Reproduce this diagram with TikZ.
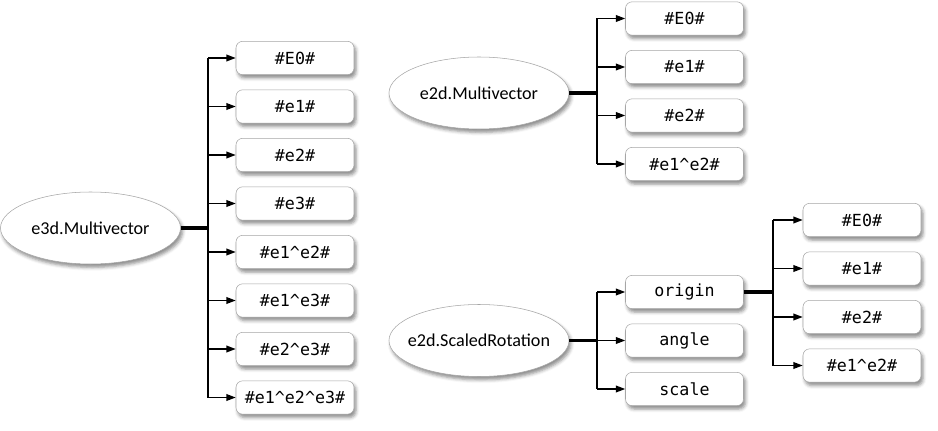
\documentclass[tikz,border=0pt]{standalone}
\usepackage{fontspec}
\setmainfont{Carlito}
\setmonofont{DejaVu Sans Mono}
\usetikzlibrary{shapes.geometric,arrows.meta,shadows.blur}
\tikzset{
  root/.style={ellipse, draw=gray!70, thin, fill=white, minimum width=135pt, minimum height=54pt,
    inner xsep=-12pt, inner ysep=0pt, font=\fontsize{13.6}{15}\selectfont,
    blur shadow={shadow xshift=1.5pt, shadow yshift=-2.5pt, shadow blur radius=2.5pt, shadow opacity=45}},
  leaf/.style={draw=gray!70, thin, fill=white, rounded corners=5pt, minimum width=88.5pt, minimum height=25pt,
    font=\ttfamily\fontsize{12.5}{15}\selectfont,
    blur shadow={shadow xshift=1.5pt, shadow yshift=-2.5pt, shadow blur radius=2.5pt, shadow opacity=45}},
  stub/.style={line width=2.6pt},
  trunk/.style={line width=1.5pt},
  branch/.style={line width=1.1pt, -{Triangle[length=7pt,width=5pt]}}
}
\begin{document}
\begin{tikzpicture}[x=0.75pt,y=-0.75pt]
\useasboundingbox (0,0) rectangle (938,431);
% множества
\def\A{\#E0\#,\#e1\#,\#e2\#,\#e3\#,\#e1\textasciicircum e2\#,\#e1\textasciicircum e3\#,\#e2\textasciicircum e3\#,\#e1\textasciicircum e2\textasciicircum e3\#}
\def\B{\#E0\#,\#e1\#,\#e2\#,\#e1\textasciicircum e2\#}
\def\C{origin,angle,scale}
% e3d
\node[root] (e3d) at (90.5,228) {e3d.Multivector};
\coordinate (e3d-t) at (208,228);
\foreach \t [count=\i] in \A
  \node[leaf] (e3d-\i) at (295,9.5+48.5*\i) {\t};
\draw[stub] (e3d.east) -- (e3d-t);
\draw[trunk] (e3d-t |- e3d-1) -- (e3d-t |- e3d-8);
\foreach \i in {1,...,8}
  \draw[branch] (e3d-t |- e3d-\i) -- (e3d-\i.west);
% e2d
\node[root] (mv) at (479,93) {e2d.Multivector};
\coordinate (mv-t) at (597,93);
\foreach \t [count=\i] in \B
  \node[leaf] (mv-\i) at (684.5,-30+48.5*\i) {\t};
\draw[stub] (mv.east) -- (mv-t);
\draw[trunk] (mv-t |- mv-1) -- (mv-t |- mv-4);
\foreach \i in {1,...,4}
  \draw[branch] (mv-t |- mv-\i) -- (mv-\i.west);
% поворот
\node[root] (sr) at (479,340.5) {e2d.ScaledRotation};
\coordinate (sr-t) at (597,340.5);
\foreach \t [count=\i] in \C
  \node[leaf] (sr-\i) at (684.5,243.5+48.5*\i) {\t};
\draw[stub] (sr.east) -- (sr-t);
\draw[trunk] (sr-t |- sr-1) -- (sr-t |- sr-3);
\foreach \i in {1,...,3}
  \draw[branch] (sr-t |- sr-\i) -- (sr-\i.west);
% origin
\coordinate (or-t) at (773,292);
\foreach \t [count=\i] in \B
  \node[leaf] (or-\i) at (862,171.5+48.5*\i) {\t};
\draw[stub] (sr-1.east) -- (or-t);
\draw[trunk] (or-t |- or-1) -- (or-t |- or-4);
\foreach \i in {1,...,4}
  \draw[branch] (or-t |- or-\i) -- (or-\i.west);
\end{tikzpicture}
\end{document}
